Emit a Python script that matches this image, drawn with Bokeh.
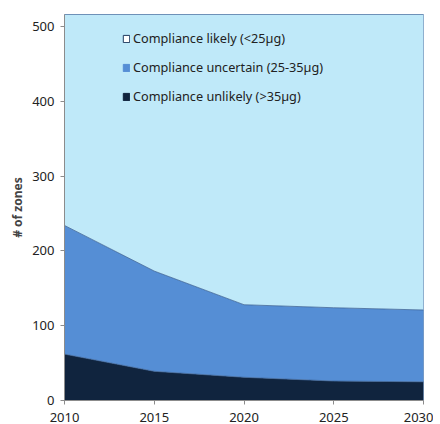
from bokeh.plotting import figure
from bokeh.models import Range1d, Legend, LegendItem, ColumnDataSource, FixedTicker
from bokeh.transform import stack
from bokeh.embed import file_html
from bokeh.resources import INLINE

years = [2010, 2015, 2020, 2025, 2030]
unlikely = [62, 39, 31, 26, 25]
uncertain = [172, 134, 97, 98, 96]
likely = [282, 343, 388, 392, 395]
y_ticks = [0, 100, 200, 300, 400, 500]
labels = ["Compliance likely (<25\u00b5g)", "Compliance uncertain (25-35\u00b5g)", "Compliance unlikely (>35\u00b5g)"]

c_light = "#BFE9F9"
c_mid = "#558ED5"
c_dark = "#10243E"
c_edge = "#3E6597"

src = ColumnDataSource(dict(x=years, unlikely=unlikely, uncertain=uncertain, likely=likely))

p = figure(width=433, height=424, output_backend="svg", toolbar_location=None,
           x_range=Range1d(2010, 2030), y_range=Range1d(0, 516),
           min_border_left=64, min_border_right=10, min_border_top=14, min_border_bottom=22)
p.grid.visible = False
p.background_fill_color = "white"
p.outline_line_color = "#7F9CC0"

p.varea_stack(stackers=["unlikely", "uncertain", "likely"], x="x",
              color=[c_dark, c_mid, c_light], source=src)
p.line(x="x", y=stack("unlikely"), color=c_edge, line_width=0.8, source=src)
p.line(x="x", y=stack("unlikely", "uncertain"), color=c_edge, line_width=0.8, source=src)
p.line(x="x", y=stack("unlikely", "uncertain", "likely"), color=c_edge, line_width=0.8, source=src)

off = dict(left=[1900], right=[1901], bottom=[0], top=[1])
r1 = p.quad(**off, fill_color="white", line_color="#1F3A5F", line_width=1)
r2 = p.quad(**off, fill_color=c_mid, line_color=c_mid, line_width=1)
r3 = p.quad(**off, fill_color=c_dark, line_color=c_dark, line_width=1)

legend = Legend(items=[LegendItem(label=labels[0], renderers=[r1]),
                       LegendItem(label=labels[1], renderers=[r2]),
                       LegendItem(label=labels[2], renderers=[r3])],
                location=(58, 295), background_fill_alpha=0, border_line_color=None,
                padding=0, margin=0, spacing=11, glyph_width=8, glyph_height=9,
                label_height=9, label_standoff=3,
                label_text_font="Noto Sans", label_text_font_size="12.7px",
                label_text_color="#222222")
p.add_layout(legend, "center")

p.xaxis.ticker = FixedTicker(ticks=years)
p.yaxis.ticker = FixedTicker(ticks=y_ticks)
for ax in (p.xaxis, p.yaxis):
    ax.axis_line_color = "#8C8C8C"
    ax.major_tick_line_color = "#8C8C8C"
    ax.major_tick_out = 4
    ax.major_tick_in = 0
    ax.minor_tick_line_color = None
    ax.major_label_text_font = "Noto Sans"
    ax.major_label_text_font_size = "13px"
    ax.major_label_text_color = "#222222"
p.yaxis.major_label_standoff = 6
p.xaxis.major_label_standoff = 8
p.yaxis.axis_label = "# of zones"
p.yaxis.axis_label_text_font = "Noto Sans"
p.yaxis.axis_label_text_font_size = "12px"
p.yaxis.axis_label_text_font_style = "bold"
p.yaxis.axis_label_standoff = 3

open("out.html", "w").write(file_html(p, INLINE))
